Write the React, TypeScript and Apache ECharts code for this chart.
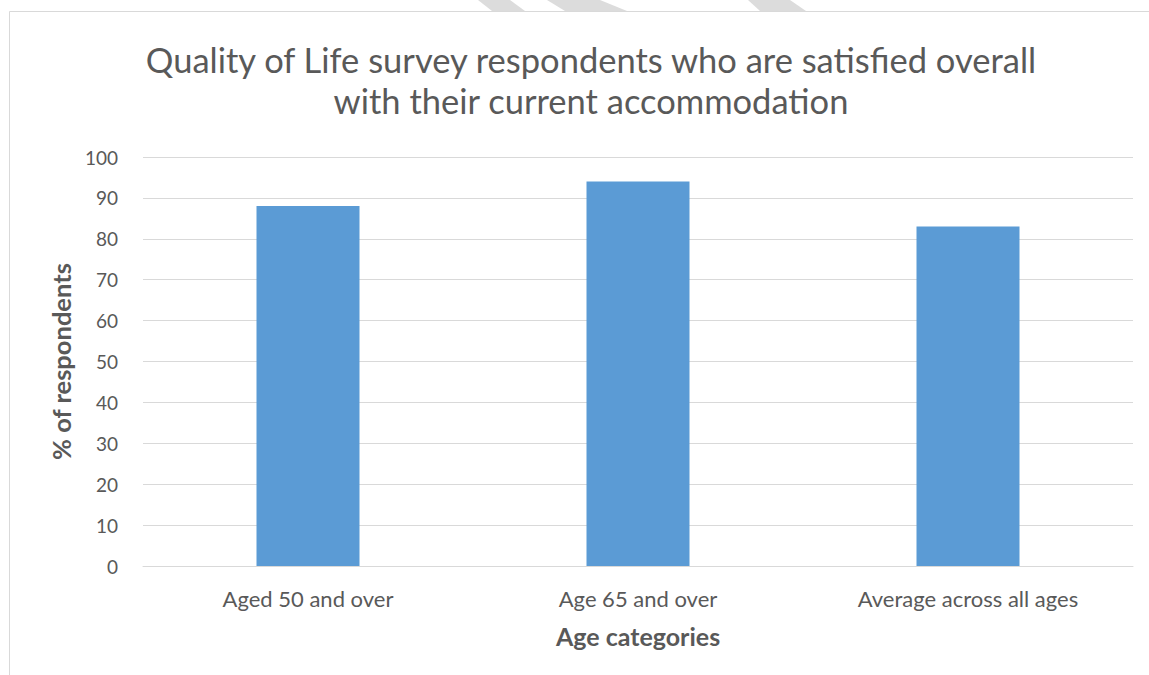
import React, { useEffect, useRef } from "react";
import * as echarts from "echarts";

const categories = ["Aged 50 and over", "Age 65 and over", "Average across all ages"];
const values = [88, 94, 83];
const titleText = "Quality of Life survey respondents who are satisfied overall\nwith their current accommodation";
const xName = "Age categories";
const yName = "% of respondents";

const FONT = "Lato, 'Open Sans', sans-serif";
const TXT = "#595959";
const GRID = "#d9d9d9";

export default function App() {
  const ref = useRef<HTMLDivElement>(null);
  useEffect(() => {
    if (!ref.current) return;
    const chart = echarts.init(ref.current, null, { renderer: "svg" });
    chart.setOption({
      animation: false,
      backgroundColor: "#ffffff",
      textStyle: { fontFamily: FONT },
      title: {
        text: titleText,
        left: 586,
        top: 34,
        textAlign: "center",
        textStyle: {
          fontFamily: FONT,
          fontSize: 34.5,
          fontWeight: "normal",
          color: TXT,
          lineHeight: 41,
        },
      },
      grid: { left: 143, right: 16, top: 157, bottom: 109, containLabel: false },
      xAxis: {
        type: "category",
        data: categories,
        name: xName,
        nameLocation: "middle",
        nameGap: 57,
        nameTextStyle: { fontFamily: FONT, fontSize: 25, fontWeight: "bold", color: TXT },
        axisLine: { lineStyle: { color: GRID, width: 1 } },
        axisTick: { show: false },
        axisLabel: { margin: 21, fontFamily: FONT, fontSize: 22, color: TXT },
      },
      yAxis: {
        type: "value",
        min: 0,
        max: 100,
        interval: 10,
        name: yName,
        nameLocation: "middle",
        nameGap: 69,
        nameTextStyle: { fontFamily: FONT, fontSize: 25.5, fontWeight: "bold", color: TXT },
        axisLine: { show: false },
        axisTick: { show: false },
        splitLine: { lineStyle: { color: GRID, width: 1 } },
        axisLabel: { margin: 25, fontFamily: FONT, fontSize: 19, color: TXT },
      },
      series: [
        {
          type: "bar",
          data: values,
          barWidth: 103,
          itemStyle: { color: "#5B9BD5" },
        },
      ],
      graphic: [
        {
          type: "rect",
          shape: { x: 9.5, y: 11.5, width: 1200, height: 800 },
          style: { fill: "none", stroke: GRID, lineWidth: 1 },
          silent: true,
        },
        {
          type: "polygon",
          shape: { points: [[478, 0], [510, 0], [525, 11], [492, 11]] },
          style: { fill: "#dcdcdc" },
          silent: true,
        },
        {
          type: "polygon",
          shape: { points: [[547, 0], [600, 0], [627, 11], [565, 11]] },
          style: { fill: "#dcdcdc" },
          silent: true,
        },
        {
          type: "polygon",
          shape: { points: [[748, 0], [790, 0], [806, 11], [760, 11]] },
          style: { fill: "#dcdcdc" },
          silent: true,
        },
      ],
    });
    return () => chart.dispose();
  }, []);
  return (
    <div
      ref={ref}
      style={{ position: "absolute", left: 0, top: 0, width: 1149, height: 675 }}
    />
  );
}
